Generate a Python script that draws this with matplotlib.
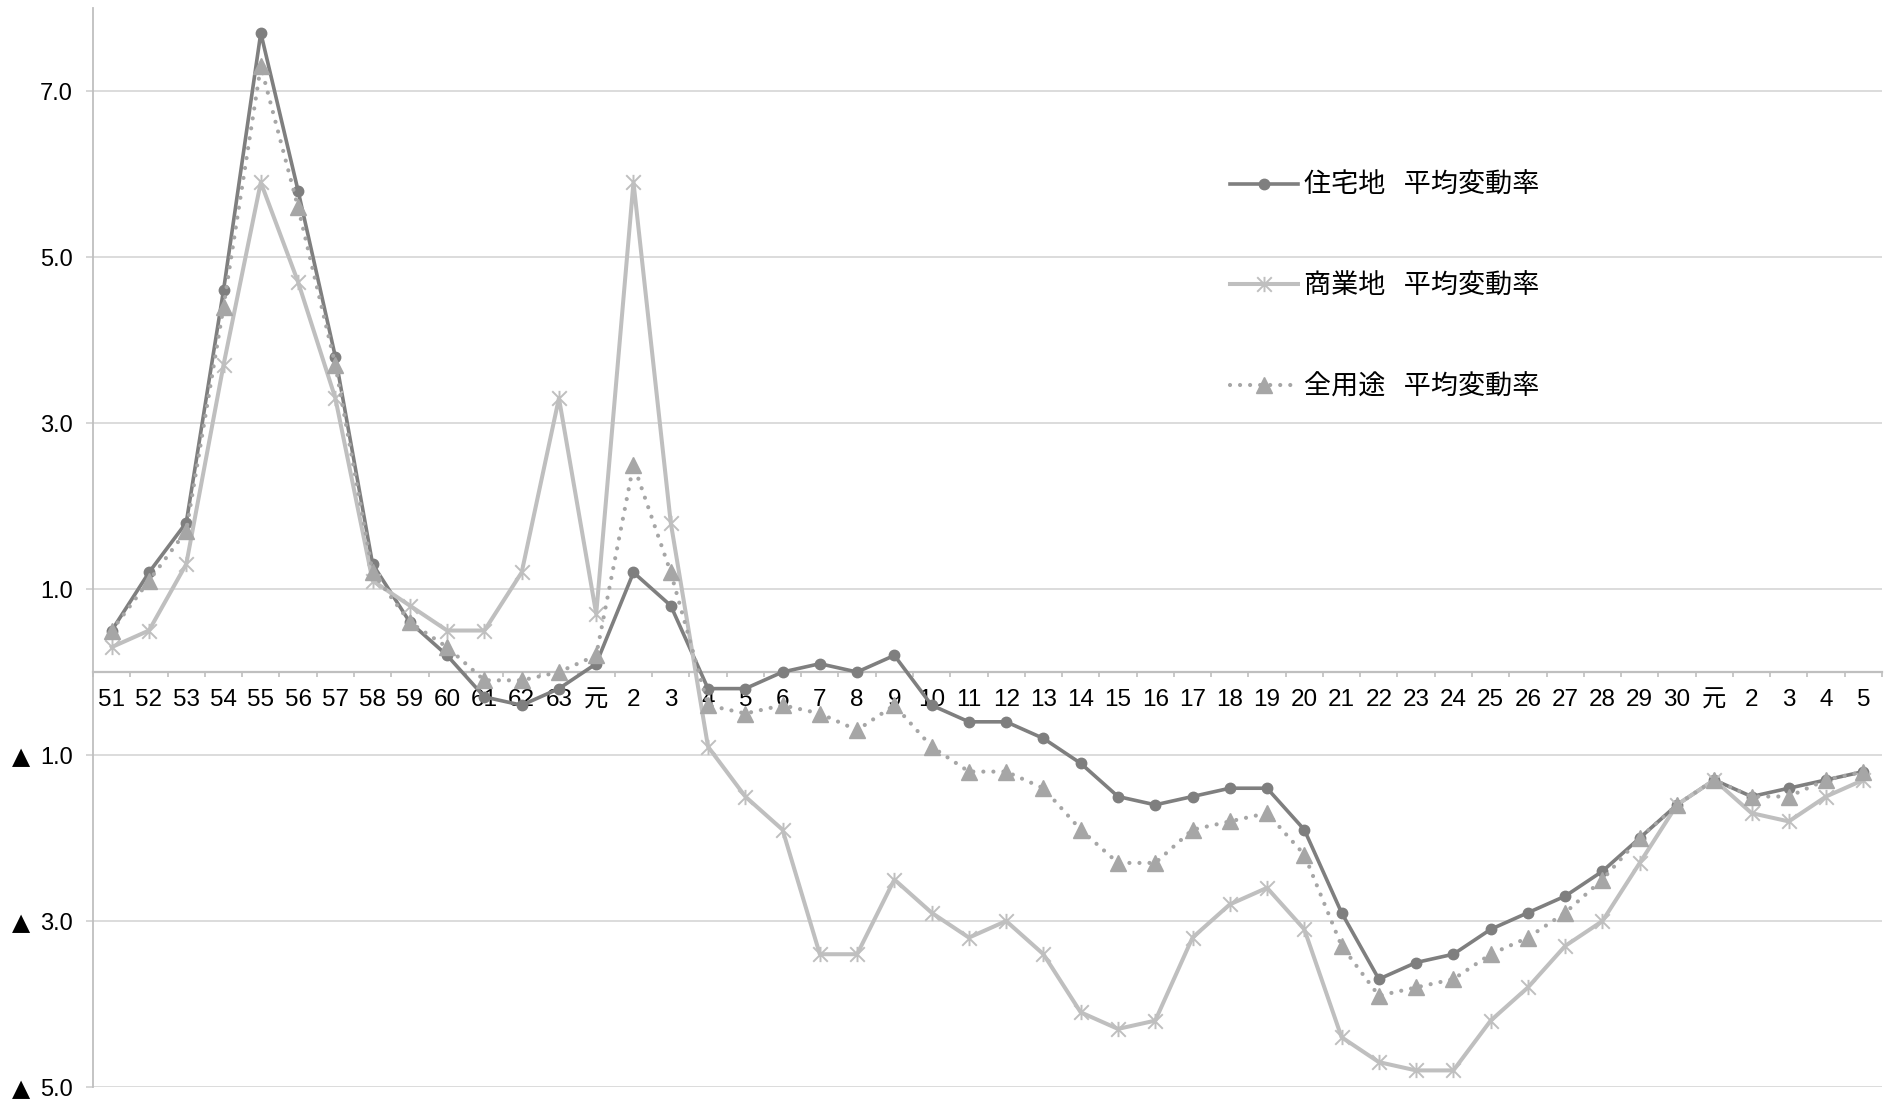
import matplotlib
matplotlib.use('Agg')
import matplotlib.pyplot as plt
import matplotlib.transforms as mtransforms
from matplotlib.path import Path
from matplotlib.ticker import FixedLocator
import numpy as np

# 年（昭和51年〜令和5年）
years = ['51', '52', '53', '54', '55', '56', '57', '58', '59', '60', '61', '62', '63',
         '元', '2', '3', '4', '5', '6', '7', '8', '9', '10', '11', '12', '13', '14',
         '15', '16', '17', '18', '19', '20', '21', '22', '23', '24', '25', '26', '27',
         '28', '29', '30', '元', '2', '3', '4', '5']

residential = [0.5, 1.2, 1.8, 4.6, 7.7, 5.8, 3.8, 1.3, 0.6, 0.2, -0.3, -0.4, -0.2,
               0.1, 1.2, 0.8, -0.2, -0.2, 0.0, 0.1, 0.0, 0.2, -0.4, -0.6, -0.6, -0.8,
               -1.1, -1.5, -1.6, -1.5, -1.4, -1.4, -1.9, -2.9, -3.7, -3.5, -3.4, -3.1,
               -2.9, -2.7, -2.4, -2.0, -1.6, -1.3, -1.5, -1.4, -1.3, -1.2]

commercial = [0.3, 0.5, 1.3, 3.7, 5.9, 4.7, 3.3, 1.1, 0.8, 0.5, 0.5, 1.2, 3.3,
              0.7, 5.9, 1.8, -0.9, -1.5, -1.9, -3.4, -3.4, -2.5, -2.9, -3.2, -3.0, -3.4,
              -4.1, -4.3, -4.2, -3.2, -2.8, -2.6, -3.1, -4.4, -4.7, -4.8, -4.8, -4.2,
              -3.8, -3.3, -3.0, -2.3, -1.6, -1.3, -1.7, -1.8, -1.5, -1.3]

all_use = [0.5, 1.1, 1.7, 4.4, 7.3, 5.6, 3.7, 1.2, 0.6, 0.3, -0.1, -0.1, 0.0,
           0.2, 2.5, 1.2, -0.4, -0.5, -0.4, -0.5, -0.7, -0.4, -0.9, -1.2, -1.2, -1.4,
           -1.9, -2.3, -2.3, -1.9, -1.8, -1.7, -2.2, -3.3, -3.9, -3.8, -3.7, -3.4,
           -3.2, -2.9, -2.5, -2.0, -1.6, -1.3, -1.5, -1.5, -1.3, -1.2]

labels = ['住宅地   平均変動率', '商業地   平均変動率', '全用途   平均変動率']

y_ticks = [-5, -3, -1, 1, 3, 5, 7]
y_tick_labels = ['▲ 5.0', '▲ 3.0', '▲ 1.0', '1.0', '3.0', '5.0', '7.0']

X_FONT = ['Liberation Sans', 'Noto Sans CJK JP', 'DejaVu Sans']
Y_FONT = ['Liberation Sans', 'DejaVu Sans']

# asterisk marker: X with a vertical bar
star = Path([(-1, -1), (1, 1), (-1, 1), (1, -1), (0, -1.05), (0, 1.05)],
            [Path.MOVETO, Path.LINETO, Path.MOVETO, Path.LINETO, Path.MOVETO, Path.LINETO])

fig = plt.figure(figsize=(18.92, 10.99), dpi=100)
ax = fig.add_axes([0.0492, 0.0109, 0.9455, 0.9818])

x = np.arange(len(years))

ax.plot(x, residential, color='#7f7f7f', lw=2.6, marker='o', ms=7.5,
        mfc='#7f7f7f', mec='#7f7f7f', label=labels[0], zorder=3)
ax.plot(x, commercial, color='#bfbfbf', lw=2.9, marker=star, ms=11,
        mfc='none', mec='#bfbfbf', mew=1.4, label=labels[1], zorder=3)
ax.plot(x, all_use, color='#a6a6a6', lw=3.0, ls=(0, (0.01, 2.4)),
        dash_capstyle='round', marker='^', ms=11, mfc='#a6a6a6', mec='#a6a6a6',
        label=labels[2], zorder=3)

ax.set_xlim(-0.5, len(years) - 0.5)
ax.set_ylim(-5, 8)

# horizontal gridlines; the ▲ (negative) sign is drawn in DejaVu for its larger glyph
ax.set_yticks(y_ticks)
ax.set_yticklabels([s.replace('▲', '').strip() for s in y_tick_labels])
ax.yaxis.grid(True, color='#d9d9d9', lw=1.3)
ax.set_axisbelow(True)
ax.tick_params(axis='y', length=4.8, width=1.2, color='#d0d0d0', pad=10,
               labelsize=17, labelcolor='black')
for t in ax.get_yticklabels():
    t.set_family(Y_FONT)

tri_trans = ax.get_yaxis_transform() + mtransforms.ScaledTranslation(-63 / 100, 0, fig.dpi_scale_trans)
for val, s in zip(y_ticks, y_tick_labels):
    if s.startswith('▲'):
        ax.text(0, val, '▲', transform=tri_trans, ha='right', va='center_baseline',
                fontsize=17, family='DejaVu Sans', color='black', clip_on=False)

# category axis sits at zero
for s in ['top', 'right']:
    ax.spines[s].set_visible(False)
ax.spines['left'].set_color('#bfbfbf')
ax.spines['left'].set_linewidth(1.3)
ax.spines['bottom'].set_position(('data', 0))
ax.spines['bottom'].set_color('#bfbfbf')
ax.spines['bottom'].set_linewidth(1.6)

ax.set_xticks(x)
ax.set_xticklabels(years)
ax.xaxis.set_minor_locator(FixedLocator(np.arange(len(years) + 1) - 0.5))
ax.tick_params(axis='x', which='major', length=0, pad=12.5, labelsize=17.5)
ax.tick_params(axis='x', which='minor', length=3.8, width=1.2, color='#bfbfbf')
for t in ax.get_xticklabels():
    t.set_family(X_FONT)

ax.legend(loc='upper left', bbox_to_anchor=(0.6501, 0.8435), bbox_transform=fig.transFigure,
          frameon=False, labelspacing=2.72, handlelength=2.5, handletextpad=0.25,
          borderpad=0, borderaxespad=0,
          prop={'family': ['Noto Sans CJK JP', 'DejaVu Sans'], 'size': 19.5})

fig.savefig('out.png', dpi=100)
